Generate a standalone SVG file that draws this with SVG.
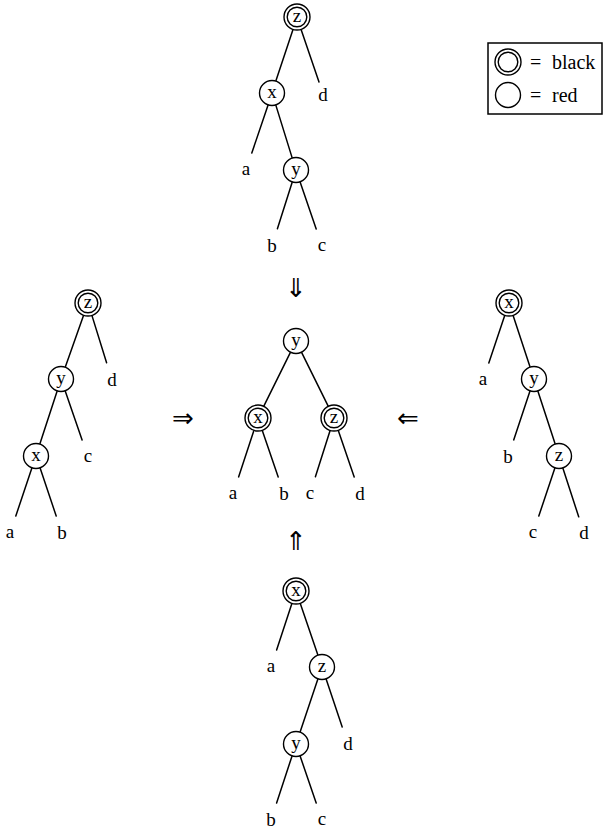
<svg xmlns="http://www.w3.org/2000/svg" width="608" height="831" viewBox="0 0 608 831">
<style>
.e{stroke:#000;stroke-width:1.5;fill:none;stroke-linecap:round}
.n{fill:#fff;stroke:#000;stroke-width:1.4}
.t{font-family:"Liberation Serif","DejaVu Serif",serif;font-size:19px;text-anchor:middle;fill:#000}
.l{font-family:"Liberation Serif","DejaVu Serif",serif;font-size:20px;fill:#000}
.a{font-family:"DejaVu Sans","DejaVu Serif",sans-serif;font-size:26px;text-anchor:middle;fill:#000}
</style>
<defs>
<g id="red"><circle class="n" r="12.5"/></g>
<g id="blk"><circle class="n" r="13"/><circle class="n" r="9.8"/></g>
</defs>
<rect width="608" height="831" fill="#fff"/>
<g id="connectors">
<line class="e" x1="293" y1="29.4" x2="276" y2="80.6"/>
<line class="e" x1="301" y1="29.3" x2="319" y2="82"/>
<line class="e" x1="268" y1="105.3" x2="251.8" y2="153"/>
<line class="e" x1="275.9" y1="105.4" x2="292.1" y2="157.6"/>
<line class="e" x1="292.1" y1="182.4" x2="277.4" y2="228.8"/>
<line class="e" x1="300.2" y1="182.3" x2="316.2" y2="229"/>
<line class="e" x1="290.3" y1="352.6" x2="263.7" y2="406.4"/>
<line class="e" x1="301.7" y1="352.6" x2="328.3" y2="406.4"/>
<line class="e" x1="253.9" y1="430.4" x2="238.6" y2="476.9"/>
<line class="e" x1="262.2" y1="430.3" x2="278.2" y2="477"/>
<line class="e" x1="330.1" y1="430.4" x2="315.4" y2="476.8"/>
<line class="e" x1="338.2" y1="430.3" x2="354.2" y2="477"/>
<line class="e" x1="83.6" y1="315.2" x2="65.4" y2="366.8"/>
<line class="e" x1="91.9" y1="315.4" x2="106.6" y2="362.8"/>
<line class="e" x1="57" y1="391.4" x2="40" y2="443.6"/>
<line class="e" x1="65.3" y1="391.3" x2="82.1" y2="440"/>
<line class="e" x1="31.8" y1="468.3" x2="15.8" y2="516"/>
<line class="e" x1="40.2" y1="468.3" x2="56.2" y2="516"/>
<line class="e" x1="504.8" y1="315.3" x2="488.8" y2="363"/>
<line class="e" x1="513.1" y1="315.4" x2="529.9" y2="366.6"/>
<line class="e" x1="529.9" y1="391.3" x2="513.7" y2="439.9"/>
<line class="e" x1="538" y1="391.4" x2="555" y2="443.6"/>
<line class="e" x1="554.8" y1="468.3" x2="538.8" y2="516"/>
<line class="e" x1="563" y1="468.4" x2="578.7" y2="516.8"/>
<line class="e" x1="291.9" y1="603.4" x2="276.6" y2="650"/>
<line class="e" x1="300.2" y1="603.3" x2="317.8" y2="654.7"/>
<line class="e" x1="317.8" y1="679.3" x2="300.2" y2="731.7"/>
<line class="e" x1="326.2" y1="679.3" x2="342.2" y2="727"/>
<line class="e" x1="291.9" y1="756.4" x2="276.6" y2="803"/>
<line class="e" x1="300.2" y1="756.3" x2="316.2" y2="803"/>
</g>
<g id="top-z"><use href="#blk" x="297" y="17"/><text class="t" x="297" y="22">z</text></g>
<g id="top-x"><use href="#red" x="272" y="93"/><text class="t" x="272" y="98">x</text></g>
<g id="top-y"><use href="#red" x="296" y="170"/><text class="t" x="296" y="175">y</text></g>
<g id="top-d"><text class="t" x="323" y="101">d</text></g>
<g id="top-a"><text class="t" x="246" y="175">a</text></g>
<g id="top-b"><text class="t" x="272" y="252">b</text></g>
<g id="top-c"><text class="t" x="322" y="251">c</text></g>
<g id="mid-y"><use href="#red" x="296" y="341"/><text class="t" x="296" y="346">y</text></g>
<g id="mid-x"><use href="#blk" x="258" y="418"/><text class="t" x="258" y="423">x</text></g>
<g id="mid-z"><use href="#blk" x="334" y="418"/><text class="t" x="334" y="423">z</text></g>
<g id="mid-a"><text class="t" x="233" y="499">a</text></g>
<g id="mid-b"><text class="t" x="284" y="500">b</text></g>
<g id="mid-c"><text class="t" x="310" y="499">c</text></g>
<g id="mid-d"><text class="t" x="360" y="500">d</text></g>
<g id="left-z"><use href="#blk" x="88" y="303"/><text class="t" x="88" y="308">z</text></g>
<g id="left-y"><use href="#red" x="61" y="379"/><text class="t" x="61" y="384">y</text></g>
<g id="left-x"><use href="#red" x="36" y="456"/><text class="t" x="36" y="461">x</text></g>
<g id="left-d"><text class="t" x="112" y="386">d</text></g>
<g id="left-c"><text class="t" x="88" y="462">c</text></g>
<g id="left-a"><text class="t" x="10" y="538">a</text></g>
<g id="left-b"><text class="t" x="62" y="539">b</text></g>
<g id="right-x"><use href="#blk" x="509" y="303"/><text class="t" x="509" y="308">x</text></g>
<g id="right-y"><use href="#red" x="534" y="379"/><text class="t" x="534" y="384">y</text></g>
<g id="right-z"><use href="#red" x="559" y="456"/><text class="t" x="559" y="461">z</text></g>
<g id="right-a"><text class="t" x="483" y="385">a</text></g>
<g id="right-b"><text class="t" x="508" y="463">b</text></g>
<g id="right-c"><text class="t" x="533" y="538">c</text></g>
<g id="right-d"><text class="t" x="584" y="539">d</text></g>
<g id="bot-x"><use href="#blk" x="296" y="591"/><text class="t" x="296" y="596">x</text></g>
<g id="bot-z"><use href="#red" x="322" y="667"/><text class="t" x="322" y="672">z</text></g>
<g id="bot-y"><use href="#red" x="296" y="744"/><text class="t" x="296" y="749">y</text></g>
<g id="bot-a"><text class="t" x="271" y="672">a</text></g>
<g id="bot-d"><text class="t" x="348" y="750">d</text></g>
<g id="bot-b"><text class="t" x="271" y="826">b</text></g>
<g id="bot-c"><text class="t" x="322" y="825">c</text></g>
<g id="arrows">
<text class="a" x="296" y="297">⇓</text>
<text class="a" x="183" y="427">⇒</text>
<text class="a" x="408" y="427">⇐</text>
<text class="a" x="296" y="550">⇑</text>
</g>
<g id="legend">
<rect x="488" y="43" width="114" height="71" fill="#fff" stroke="#000" stroke-width="1.5"/>
<use href="#blk" x="508" y="62"/>
<use href="#red" x="508" y="95"/>
<text class="l" x="530" y="69">=</text>
<text class="l" x="552" y="69">black</text>
<text class="l" x="530" y="102">=</text>
<text class="l" x="552" y="102">red</text>
</g>
</svg>
